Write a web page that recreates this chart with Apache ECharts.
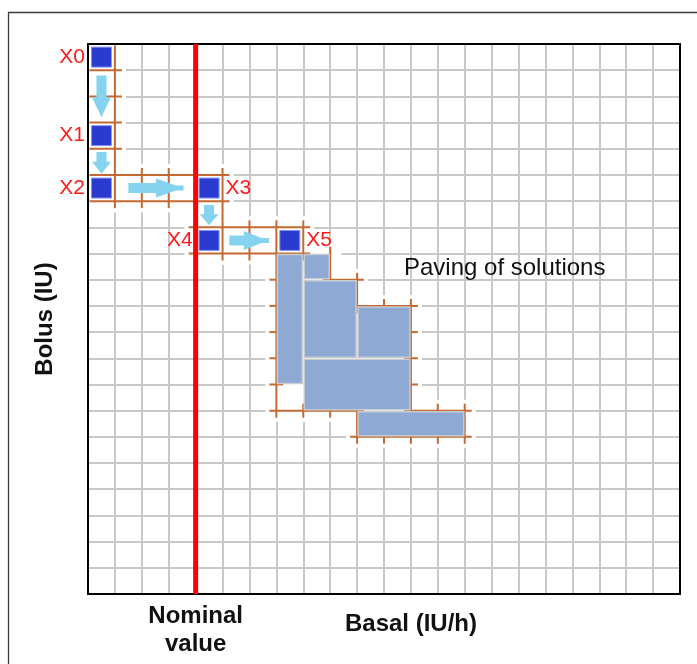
<!DOCTYPE html>
<html>
<head>
<meta charset="utf-8">
<script src="https://cdn.jsdelivr.net/npm/echarts@6/dist/echarts.min.js"></script>
<style>
  html, body { margin: 0; padding: 0; background: #ffffff; }
  #chart { width: 697px; height: 664px; }
</style>
</head>
<body>
<div id="chart"></div>
<script>
// Search steps: cell (basal column, bolus row) of each visited point
const steps = ['X0', 'X1', 'X2', 'X3', 'X4', 'X5'];
const stepBasal = [0, 0, 0, 4, 4, 7];
const stepBolus = [0, 3, 5, 5, 7, 7];
const rightLabelled = ['X3', 'X5'];

// Nominal basal value (vertical reference line)
const nominalBasal = 4;

// Axis extents, in grid cells
const basalRange = [0, 22];
const bolusRange = [0, 21];

// Moves between steps: [fromBasal, fromBolus, toBasal, toBolus]
const moves = [
  [0.5, 1.2, 0.5, 2.8],
  [0.5, 4.12, 0.5, 4.95],
  [1.5, 5.5, 3.55, 5.5],
  [4.5, 6.15, 4.5, 6.92],
  [5.25, 7.5, 6.73, 7.5]
];

// Paving of solutions: boxes [basal0, bolus0, basal1, bolus1]
const pavingBoxes = [
  [7, 8, 8, 13],
  [8, 8, 9, 9],
  [8, 9, 10, 12],
  [10, 10, 12, 12],
  [8, 12, 12, 14],
  [10, 14, 14, 15]
];

// Explored intervals, outlined: horizontal [bolus, basal0, basal1]
const outlineH = [
  [1, 0, 1], [2, 0, 1], [3, 0, 1], [4, 0, 1], [5, 0, 5], [6, 0, 5],
  [7, 4, 8], [8, 4, 8],
  [9, 7, 7], [10, 7, 7], [11, 7, 7], [12, 7, 7], [13, 7, 7],
  [14, 7, 10], [9, 9, 10], [10, 10, 12],
  [11, 12, 12], [12, 12, 12], [13, 12, 12],
  [14, 12, 14], [15, 10, 14]
];
// vertical [basal, bolus0, bolus1]
const outlineV = [
  [1, 0, 6], [2, 5, 6], [3, 5, 6], [4, 5, 8], [5, 5, 8],
  [6, 7, 8], [7, 7, 14], [8, 7, 8],
  [9, 8, 9], [10, 9, 10], [11, 10, 10], [12, 10, 14],
  [8, 14, 14], [9, 14, 14], [10, 14, 15], [11, 15, 15], [12, 15, 15],
  [13, 14, 15], [14, 14, 15]
];
// Explored zones (the grid is cleared under them)
const exploredZones = [
  [0, 0, 1, 6], [0, 5, 5, 6], [4, 5, 5, 8], [4, 7, 8, 8],
  [7, 8, 9, 9], [7, 9, 10, 10], [7, 10, 12, 14], [10, 14, 14, 15]
];

const FONT = "'Liberation Sans', Arial, Helvetica, sans-serif";
const ORANGE = '#c36a33';
const OVERSHOOT = 7;
const HALO = 11;

function clampRect(x1, y1, x2, y2, cs) {
  const lx = cs.x + 1.5, rx = cs.x + cs.width - 1.5;
  const ty = cs.y + 1.5, by = cs.y + cs.height - 1.5;
  return [Math.max(x1, lx), Math.max(y1, ty), Math.min(x2, rx), Math.min(y2, by)];
}

function zoneItem(params, api) {
  const a = api.coord([api.value(0), api.value(1)]);
  const b = api.coord([api.value(2), api.value(3)]);
  const r = clampRect(Math.min(a[0], b[0]) - HALO, Math.min(a[1], b[1]) - HALO,
                      Math.max(a[0], b[0]) + HALO, Math.max(a[1], b[1]) + HALO, params.coordSys);
  return { type: 'rect', shape: { x: r[0], y: r[1], width: r[2] - r[0], height: r[3] - r[1] },
           style: { fill: '#ffffff' } };
}

function hLineItem(params, api) {
  const a = api.coord([api.value(1), api.value(0)]);
  const b = api.coord([api.value(2), api.value(0)]);
  const r = clampRect(Math.min(a[0], b[0]) - OVERSHOOT, a[1], Math.max(a[0], b[0]) + OVERSHOOT, a[1], params.coordSys);
  return { type: 'line', shape: { x1: r[0], y1: a[1], x2: r[2], y2: a[1] },
           style: { stroke: ORANGE, lineWidth: 2 } };
}

function vLineItem(params, api) {
  const a = api.coord([api.value(0), api.value(1)]);
  const b = api.coord([api.value(0), api.value(2)]);
  const r = clampRect(a[0], Math.min(a[1], b[1]) - OVERSHOOT, a[0], Math.max(a[1], b[1]) + OVERSHOOT, params.coordSys);
  return { type: 'line', shape: { x1: a[0], y1: r[1], x2: a[0], y2: r[3] },
           style: { stroke: ORANGE, lineWidth: 2 } };
}

function boxItem(params, api) {
  const a = api.coord([api.value(0), api.value(1)]);
  const b = api.coord([api.value(2), api.value(3)]);
  const x = Math.min(a[0], b[0]) + 1, y = Math.min(a[1], b[1]) + 1;
  return { type: 'rect',
           shape: { x: x, y: y, width: Math.abs(b[0] - a[0]) - 2, height: Math.abs(b[1] - a[1]) - 2 },
           style: { fill: '#8eaad4', stroke: '#c8cbd0', lineWidth: 1.5 } };
}

function arrowItem(params, api) {
  const p = api.coord([api.value(0), api.value(1)]);
  const q = api.coord([api.value(2), api.value(3)]);
  const dx = q[0] - p[0], dy = q[1] - p[1];
  const L = Math.sqrt(dx * dx + dy * dy);
  const ux = dx / L, uy = dy / L, nx = -uy, ny = ux;
  const horizontal = Math.abs(dx) > Math.abs(dy);
  const nub = horizontal ? 7.5 : 0;
  const hl = Math.min(20, (L - nub) * 0.55);
  const sw = 5, hw = 9.5, tw = horizontal ? 2.5 : 0;
  const local = [
    [0, -sw], [L - nub - hl, -sw], [L - nub - hl, -hw], [L - nub, -tw],
    [L, -tw], [L, tw], [L - nub, tw], [L - nub - hl, hw], [L - nub - hl, sw], [0, sw]
  ];
  const pts = local.map(function (t) {
    return [p[0] + ux * t[0] + nx * t[1], p[1] + uy * t[0] + ny * t[1]];
  });
  return { type: 'polygon', shape: { points: pts }, style: { fill: '#86d3f0' } };
}

const stepData = steps.map(function (name, i) {
  return {
    name: name,
    value: [stepBasal[i] + 0.5, stepBolus[i] + 0.5],
    label: { position: rightLabelled.indexOf(name) >= 0 ? 'right' : 'left' }
  };
});

const frameLine = { show: true, onZero: false, lineStyle: { color: '#000000', width: 2 } };
const hiddenAxis = { axisTick: { show: false }, axisLabel: { show: false }, splitLine: { show: false } };

const chart = echarts.init(document.getElementById('chart'), null, { renderer: 'canvas' });

chart.setOption({
  animation: false,
  backgroundColor: '#ffffff',
  grid: {
    left: 88, top: 44, right: 17, bottom: 70,
    outerBoundsMode: 'none', containLabel: false, show: false
  },
  xAxis: [{
    type: 'value', min: basalRange[0], max: basalRange[1], interval: 1, position: 'bottom',
    name: 'Basal (IU/h)', nameLocation: 'middle', nameGap: 18, nameMoveOverlap: false,
    nameTextStyle: { fontFamily: FONT, fontSize: 24, fontWeight: 'bold', color: '#111111', padding: [0, 0, 0, 54] },
    axisLine: frameLine, axisTick: { show: false },
    axisLabel: {
      show: true, margin: 8, interval: 0,
      fontFamily: FONT, fontSize: 24, fontWeight: 'bold', color: '#111111', lineHeight: 28,
      formatter: function (v) { return v === nominalBasal ? 'Nominal\nvalue' : ''; }
    },
    splitLine: { show: true, lineStyle: { color: '#c8c8c8', width: 2 } }
  }, Object.assign({
    type: 'value', min: basalRange[0], max: basalRange[1], position: 'top', axisLine: frameLine
  }, hiddenAxis)],
  yAxis: [{
    type: 'value', min: bolusRange[0], max: bolusRange[1], interval: 1, inverse: true, position: 'left',
    name: 'Bolus (IU)', nameLocation: 'middle', nameGap: 31, nameMoveOverlap: false,
    nameTextStyle: { fontFamily: FONT, fontSize: 24, fontWeight: 'bold', color: '#111111' },
    axisLine: frameLine, axisTick: { show: false }, axisLabel: { show: false },
    splitLine: { show: true, lineStyle: { color: '#c8c8c8', width: 2 } }
  }, Object.assign({
    type: 'value', min: bolusRange[0], max: bolusRange[1], inverse: true, position: 'right', axisLine: frameLine
  }, hiddenAxis)],
  graphic: [
    { type: 'rect', shape: { x: 8.5, y: 12.5, width: 720, height: 680 },
      style: { fill: 'none', stroke: '#3a3a3a', lineWidth: 1.3 }, z: 0 },
    { type: 'text', left: 404, top: 256, z: 20,
      style: { text: 'Paving of solutions', font: '24px ' + FONT, fill: '#111111' } }
  ],
  series: [
    { type: 'custom', name: 'explored', z: 1, silent: true,
      renderItem: zoneItem, data: exploredZones },
    { type: 'custom', name: 'outlineH', z: 2, silent: true,
      renderItem: hLineItem, data: outlineH },
    { type: 'custom', name: 'outlineV', z: 2, silent: true,
      renderItem: vLineItem, data: outlineV },
    { type: 'custom', name: 'paving', z: 3, silent: true,
      renderItem: boxItem, data: pavingBoxes },
    { type: 'custom', name: 'moves', z: 3, silent: true,
      renderItem: arrowItem, data: moves },
    { type: 'line', name: 'nominal', z: 5, silent: true, symbol: 'none',
      lineStyle: { color: '#ff0000', width: 5 },
      data: [[nominalBasal, bolusRange[0]], [nominalBasal, bolusRange[1]]] },
    { type: 'scatter', name: 'steps', z: 6, silent: true,
      symbol: 'rect', symbolSize: [20, 20],
      itemStyle: { color: '#2b3bd0', borderColor: '#8796f2', borderWidth: 1, opacity: 1 },
      label: { show: true, formatter: '{b}', distance: 6, fontFamily: FONT, fontSize: 21, color: '#ff1a1a' },
      data: stepData }
  ]
});
</script>
</body>
</html>
